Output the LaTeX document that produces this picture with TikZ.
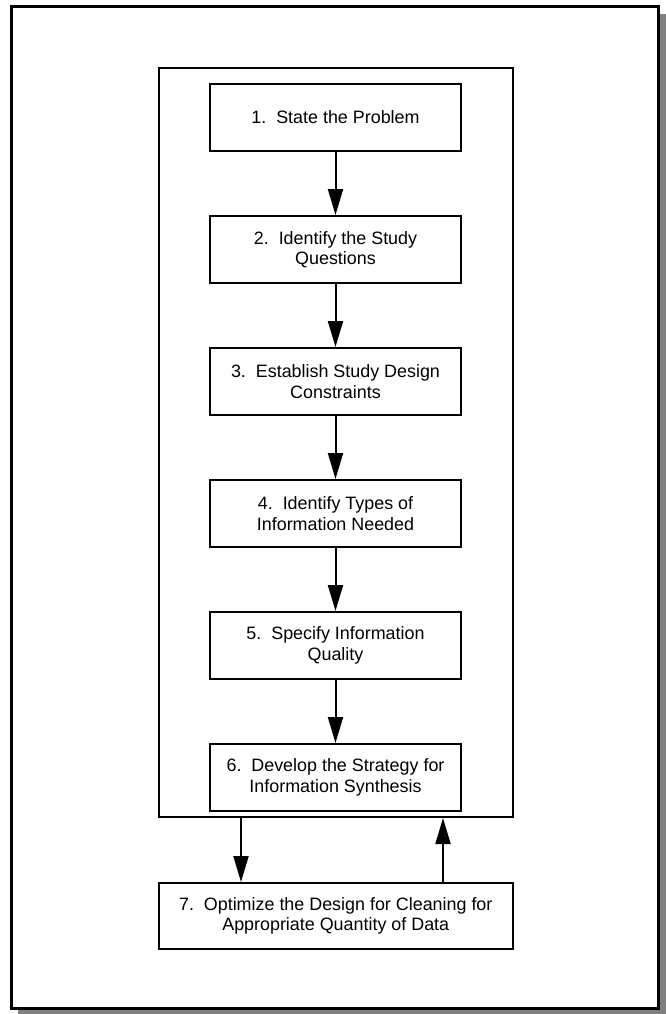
\documentclass[tikz,border=0pt]{standalone}
\usepackage{fontspec}
\setmainfont{Liberation Sans}
\usetikzlibrary{positioning,arrows.meta}

\tikzset{
  stepbox/.style={draw, line width=2pt, minimum width=251pt, minimum height=67pt,
    inner sep=0pt, align=center, font=\fontsize{17.9}{20.5}\selectfont},
  flow/.style={line width=2pt, -{Triangle[length=26pt,width=15pt]}}
}

\begin{document}
\begin{tikzpicture}[x=1pt,y=1pt]
\useasboundingbox (0,0) rectangle (666,-1014);
\fill[black!50] (18,-14) rectangle (666,-1014);
\draw[line width=3pt, fill=white] (11,-6.7) rectangle (658,-1008);

\node[draw, line width=2pt, minimum width=354.5pt, minimum height=749pt, inner sep=0pt] (stage) at (335.75,-442.5) {};

\node[stepbox] (s1) at (335.5,-117.5) {1.\ \ State the Problem};
\node[stepbox, below=63pt of s1] (s2) {2.\ \ Identify the Study\\Questions};
\node[stepbox, below=63pt of s2] (s3) {3.\ \ Establish Study Design\\Constraints};
\node[stepbox, below=63pt of s3] (s4) {4.\ \ Identify Types of\\Information Needed};
\node[stepbox, below=63pt of s4] (s5) {5.\ \ Specify Information\\Quality};
\node[stepbox, below=63pt of s5] (s6) {6.\ \ Develop the Strategy for\\Information Synthesis};

\node[stepbox, minimum width=354.5pt, minimum height=66pt] (s7) at (335.75,-916) {7.\ \ Optimize the Design for Cleaning for\\Appropriate Quantity of Data};

\foreach \a/\b in {s1/s2,s2/s3,s3/s4,s4/s5,s5/s6}
  \draw[flow] (\a) -- (\b);

\draw[flow] ([xshift=-94.75pt]stage.south) -- ([xshift=-94.75pt]s7.north);
\draw[flow] ([xshift=107.25pt]s7.north) -- ([xshift=107.25pt]stage.south);

\end{tikzpicture}
\end{document}
